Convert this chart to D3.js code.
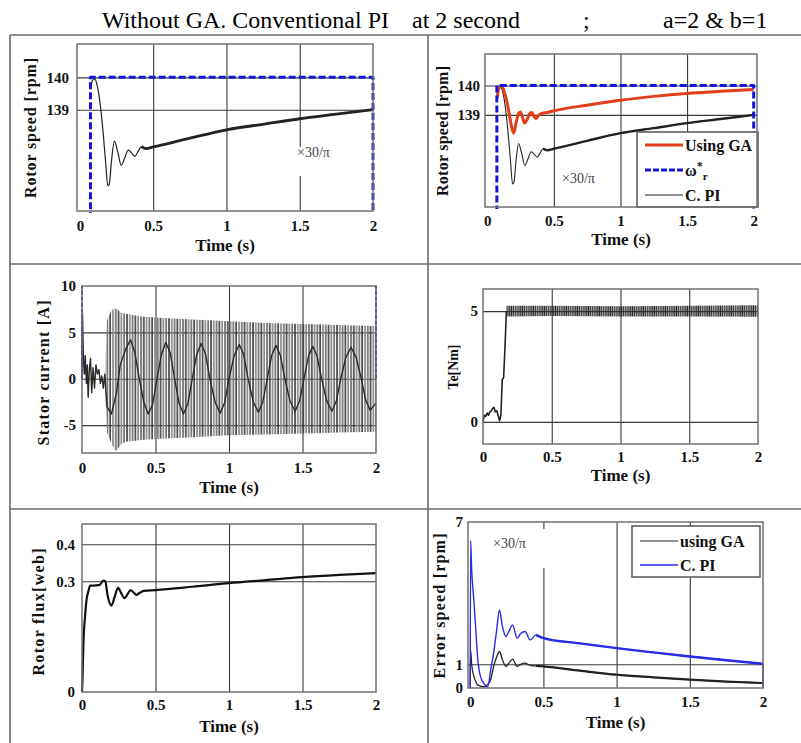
<!DOCTYPE html>
<html>
<head>
<meta charset="utf-8">
<script src="https://cdn.jsdelivr.net/npm/d3@7"></script>
<style>
  body { margin: 0; background: #fff; }
  svg text { font-family: "Liberation Serif", "Times New Roman", serif; }
</style>
</head>
<body>
<div id="fig"></div>
<script>
// ---------- values ----------
var timeTicks = [0, 0.5, 1, 1.5, 2]
var timeTickLabels = ["0", "0.5", "1", "1.5", "2"]
var timeGrid = [0.5, 1, 1.5]

// rotor speed [rpm], conventional PI
var speedT  = [0.075, 0.085, 0.1, 0.115, 0.13, 0.145, 0.16, 0.175, 0.19, 0.2, 0.215, 0.235, 0.258, 0.282, 0.305, 0.33, 0.355, 0.375, 0.398, 0.42, 0.45, 0.5, 0.75, 1.0, 1.25, 1.5, 1.75, 2.0]
var speedPI = [139.7, 139.9, 139.95, 139.8, 139.45, 138.9, 138.2, 137.4, 136.65, 136.7, 137.4, 138.03, 137.7, 137.28, 137.5, 137.75, 137.65, 137.56, 137.72, 137.86, 137.8, 137.85, 138.12, 138.38, 138.55, 138.72, 138.86, 139.0]
// rotor speed [rpm], using GA
var speedGAT = [0.075, 0.09, 0.11, 0.13, 0.15, 0.17, 0.185, 0.198, 0.215, 0.235, 0.25, 0.265, 0.28, 0.3, 0.32, 0.335, 0.35, 0.365, 0.385, 0.41, 0.45, 0.5, 0.75, 1.0, 1.25, 1.5, 1.75, 2.0]
var speedGA  = [139.6, 139.95, 139.95, 139.75, 139.4, 138.9, 138.55, 138.38, 138.7, 139.05, 139.1, 138.9, 138.72, 138.85, 139.05, 139.08, 138.95, 138.88, 138.98, 139.05, 139.08, 139.14, 139.33, 139.5, 139.63, 139.73, 139.8, 139.86]
// reference speed w*r
var refT = [0.072, 0.072, 2.0, 2.0]
var refW = [135.0, 140, 140, 135.0]
var speedTicks = [139, 140]

// stator current [A]
var currentT = [0, 0.003, 0.006, 0.01, 0.016, 0.022, 0.03, 0.036, 0.042, 0.05, 0.058, 0.066, 0.075, 0.085, 0.095, 0.105, 0.115, 0.125, 0.135, 0.145, 0.155,
  0.17, 0.2, 0.235, 0.26, 0.3, 0.33, 0.36, 0.39, 0.42, 0.45, 0.48, 0.51, 0.54, 0.57, 0.6, 0.63, 0.66, 0.69, 0.72, 0.75, 0.78, 0.81, 0.84, 0.87,
  0.905, 0.94, 0.97, 1.0, 1.035, 1.07, 1.1, 1.13, 1.165, 1.2, 1.23, 1.26, 1.29, 1.32, 1.35, 1.38, 1.415, 1.45, 1.48, 1.51, 1.54, 1.57, 1.6, 1.63,
  1.665, 1.7, 1.73, 1.76, 1.795, 1.83, 1.865, 1.9, 1.93, 1.96, 2.0]
var currentI = [0, 7.0, 5.0, 2.0, 0.5, 2.5, -0.5, 1.5, -2.0, 1.0, 2.2, -1.5, 1.2, -1.0, 1.5, 0.5, 1.0, -0.5, 0.3, -1.0, 0.5,
  -3.0, -3.8, -1.5, 1.5, 3.3, 4.2, 2.8, 0.0, -2.5, -3.8, -2.8, 0, 2.6, 3.9, 2.8, 0, -2.6, -3.8, -2.7, 0, 2.6, 3.8, 2.7, 0,
  -2.5, -3.7, -2.6, 0, 2.5, 3.7, 2.6, 0, -2.5, -3.6, -2.5, 0, 2.5, 3.6, 2.5, 0, -2.4, -3.5, -2.4, 0, 2.4, 3.5, 2.4, 0,
  -2.4, -3.5, -2.4, 0, 2.3, 3.4, 2.3, 0, -2.3, -3.4, -2.6]
// envelope of the switching band
var bandT  = [0.155, 0.17, 0.2, 0.23, 0.27, 0.3, 0.4, 0.5, 0.75, 1.0, 1.25, 1.5, 1.75, 2.0]
var bandHi = [0.5, 6.3, 7.4, 7.6, 7.1, 7.0, 6.7, 6.6, 6.4, 6.2, 6.0, 5.9, 5.8, 5.7]
var bandLo = [-1.0, -5.8, -7.0, -7.8, -7.0, -6.8, -6.6, -6.5, -6.3, -6.1, -6.0, -5.9, -5.8, -5.7]
var currentRefT = [0, 2]
var currentRefSpan = [0, 10]
var currentTicks = [-5, 0, 5, 10]
var currentGrid = [-5, 0, 5]

// electromagnetic torque Te [Nm]
var teT   = [0, 0.01, 0.02, 0.03, 0.04, 0.05, 0.06, 0.07, 0.08, 0.09, 0.1, 0.11, 0.12, 0.13, 0.14, 0.15, 0.16, 0.17]
var teVal = [0, 0.3, 0.25, 0.4, 0.3, 0.45, 0.5, 0.6, 0.65, 0.45, 0.5, 0.3, 0.05, 0.3, 1.9, 2.0, 3.4, 5.0]
var teBandT  = [0.17, 0.5, 1.0, 1.5, 2.0]
var teBandHi = [5.24, 5.24, 5.22, 5.24, 5.27]
var teBandLo = [4.76, 4.78, 4.76, 4.76, 4.75]
var teTicks = [0, 5]

// rotor flux [web]
var fluxT   = [0, 0.005, 0.01, 0.02, 0.03, 0.045, 0.055, 0.08, 0.1, 0.12, 0.145, 0.158, 0.175, 0.2, 0.22, 0.245, 0.27, 0.29, 0.31, 0.33, 0.35, 0.37, 0.39, 0.42, 0.5, 0.75, 1.0, 1.25, 1.5, 1.75, 2.0]
var fluxVal = [0, 0.06, 0.137, 0.2, 0.247, 0.275, 0.288, 0.288, 0.289, 0.29, 0.302, 0.3, 0.26, 0.234, 0.255, 0.282, 0.265, 0.254, 0.265, 0.276, 0.27, 0.263, 0.268, 0.274, 0.276, 0.285, 0.295, 0.303, 0.311, 0.317, 0.322]
var fluxTicks = [0, 0.3, 0.4]
var fluxGrid = [0.3, 0.4]

// speed error [rpm]
var errT  = [0, 0.003, 0.01, 0.025, 0.04, 0.05, 0.07, 0.1, 0.12, 0.14, 0.16, 0.18, 0.2, 0.22, 0.244, 0.265, 0.29, 0.32, 0.345, 0.374, 0.41, 0.45, 0.5, 0.75, 1.0, 1.25, 1.5, 1.75, 2.0]
var errPI = [0, 6.2, 5.0, 3.7, 2.3, 1.33, 0.49, 0.14, 0.05, 0.77, 1.47, 2.4, 3.29, 2.6, 2.17, 2.4, 2.66, 2.1, 2.3, 2.38, 2.03, 2.24, 2.1, 1.88, 1.68, 1.5, 1.33, 1.17, 1.02]
var errGA = [0, 1.6, 1.0, 0.49, 0.25, 0.14, 0.08, 0.05, 0.15, 0.35, 0.91, 1.3, 1.54, 1.2, 0.91, 1.05, 1.22, 0.91, 1.0, 1.05, 0.95, 0.93, 0.91, 0.73, 0.56, 0.45, 0.35, 0.27, 0.21]
var errEndT = [2.0, 2.0]
var errPIEnd = [1.02, 0]
var errTicks = [0, 1, 7]
var errGrid = [1]

// ---------- drawing ----------
var FONT = '"Liberation Serif", "Times New Roman", serif'
var BLUE = "#1616d8"
var RED = "#e2401c"

var svg = d3.select("#fig").append("svg")
  .attr("width", 801)
  .attr("height", 743)
  .attr("font-family", FONT)

var defs = svg.append("defs")
// vertical hatching stands in for the fast switching of the inverter signals
var pwm = defs.append("pattern").attr("id", "pwm")
  .attr("patternUnits", "userSpaceOnUse").attr("width", 8.4).attr("height", 8)
pwm.append("line").attr("x1", 1).attr("x2", 1).attr("y1", 0).attr("y2", 8)
  .attr("stroke", "#3c3c3c").attr("stroke-width", 1.6)
pwm.append("line").attr("x1", 3.8).attr("x2", 3.8).attr("y1", 0).attr("y2", 8)
  .attr("stroke", "#8a8a8a").attr("stroke-width", 1.7)
pwm.append("line").attr("x1", 6.6).attr("x2", 6.6).attr("y1", 0).attr("y2", 8)
  .attr("stroke", "#707070").attr("stroke-width", 1.7)
var dense = defs.append("pattern").attr("id", "dense")
  .attr("patternUnits", "userSpaceOnUse").attr("width", 2.2).attr("height", 8)
dense.append("line").attr("x1", 1).attr("x2", 1).attr("y1", 0).attr("y2", 8)
  .attr("stroke", "#2a2a2a").attr("stroke-width", 1.5)

// title
var title = svg.append("g").attr("font-family", FONT).attr("font-size", 24).attr("fill", "#000")
title.append("text").attr("x", 102).attr("y", 28).text("Without GA. Conventional PI")
title.append("text").attr("x", 412).attr("y", 28).text("at 2 second")
title.append("text").attr("x", 583).attr("y", 28).text(";")
title.append("text").attr("x", 663).attr("y", 28).text("a=2 & b=1")

// table rules
var rules = svg.append("g").attr("stroke", "#6a6a6a").attr("stroke-width", 1.6)
rules.append("line").attr("x1", 10).attr("x2", 801).attr("y1", 35).attr("y2", 35)
rules.append("line").attr("x1", 10).attr("x2", 801).attr("y1", 264).attr("y2", 264)
rules.append("line").attr("x1", 10).attr("x2", 801).attr("y1", 509).attr("y2", 509)
rules.append("line").attr("x1", 10).attr("x2", 10).attr("y1", 35).attr("y2", 743)
rules.append("line").attr("x1", 428).attr("x2", 428).attr("y1", 35).attr("y2", 743)

function makePanel(L) {
  var x = d3.scaleLinear().domain(L.xDom).range([L.x0, L.x1])
  var y = d3.scaleLinear().domain(L.yDom).range([L.y1, L.y0])
  var w = L.x1 - L.x0, h = L.y1 - L.y0
  var g = svg.append("g")

  g.append("rect").attr("x", L.x0).attr("y", L.y0).attr("width", w).attr("height", h).attr("fill", "#fff")

  // grid
  g.append("g").attr("transform", "translate(0," + L.y1 + ")")
    .call(d3.axisBottom(x).tickValues(timeGrid).tickSize(-h).tickFormat(""))
    .call(function(s) { s.select(".domain").remove() })
    .selectAll("line").attr("stroke", "#3a3a3a").attr("stroke-width", 1.1)
  g.append("g").attr("transform", "translate(" + L.x0 + ",0)")
    .call(d3.axisLeft(y).tickValues(L.yGrid).tickSize(-w).tickFormat(""))
    .call(function(s) { s.select(".domain").remove() })
    .selectAll("line").attr("stroke", "#3a3a3a").attr("stroke-width", 1.1)

  var clipId = "clip-" + L.id
  defs.append("clipPath").attr("id", clipId).append("rect")
    .attr("x", L.x0 - 2).attr("y", L.y0 - 2).attr("width", w + 4).attr("height", h + 4)
  var plot = g.append("g").attr("clip-path", "url(#" + clipId + ")")
  var over = g.append("g")

  g.append("rect").attr("x", L.x0).attr("y", L.y0).attr("width", w).attr("height", h)
    .attr("fill", "none").attr("stroke", "#707070").attr("stroke-width", 1.5)

  // tick labels
  g.append("g").attr("transform", "translate(0," + L.y1 + ")")
    .call(d3.axisBottom(x).tickValues(timeTicks).tickSize(0).tickPadding(L.xPad)
      .tickFormat(function(d, i) { return timeTickLabels[i] }))
    .call(function(s) { s.select(".domain").remove() })
    .attr("font-family", FONT).attr("font-size", 15).attr("font-weight", "bold")
  g.append("g").attr("transform", "translate(" + L.x0 + ",0)")
    .call(d3.axisLeft(y).tickValues(L.yTicks).tickSize(0).tickPadding(L.yPad)
      .tickFormat(function(d) { return String(d) }))
    .call(function(s) { s.select(".domain").remove() })
    .attr("font-family", FONT).attr("font-size", 15).attr("font-weight", "bold")
  g.selectAll(".tick text").attr("fill", "#111")

  // axis titles
  g.append("text").attr("x", (L.x0 + L.x1) / 2).attr("y", L.timeY)
    .attr("text-anchor", "middle").attr("font-size", 17).attr("font-weight", "bold")
    .attr("fill", "#111").text("Time (s)")
  g.append("text")
    .attr("transform", "translate(" + L.labelX + "," + L.labelY + ") rotate(-90)")
    .attr("text-anchor", "middle").attr("dy", "0.35em")
    .attr("font-size", L.labelSize || 16).attr("font-weight", "bold").attr("fill", "#111")
    .attr("textLength", L.labelLen).attr("lengthAdjust", "spacing")
    .text(L.label)

  return { x: x, y: y, plot: plot, over: over }
}

function drawLine(P, ts, vs, stroke, width, dash, curve) {
  var pts = ts.map(function(t, i) { return [t, vs[i]] })
  P.plot.append("path").datum(pts)
    .attr("d", d3.line().curve(curve || d3.curveLinear)
      .x(function(d) { return P.x(d[0]) }).y(function(d) { return P.y(d[1]) }))
    .attr("fill", "none").attr("stroke", stroke).attr("stroke-width", width)
    .attr("stroke-linejoin", "round")
    .attr("stroke-dasharray", dash || null)
}

// the noisy steady-state part of a trace is drawn heavier
function drawTail(P, ts, vs, from, stroke, width) {
  var t2 = [], v2 = []
  ts.forEach(function(t, i) { if (t >= from) { t2.push(t); v2.push(vs[i]) } })
  drawLine(P, t2, v2, stroke, width, null, d3.curveMonotoneX)
}

function drawBand(P, ts, hi, lo, fill) {
  var pts = ts.map(function(t, i) { return [t, lo[i], hi[i]] })
  P.plot.append("path").datum(pts)
    .attr("d", d3.area().x(function(d) { return P.x(d[0]) })
      .y0(function(d) { return P.y(d[1]) }).y1(function(d) { return P.y(d[2]) }))
    .attr("fill", fill)
}

function note(P, x, y, box) {
  if (box) P.over.append("rect").attr("x", box[0]).attr("y", box[1]).attr("width", box[2]).attr("height", box[3]).attr("fill", "#fff")
  P.over.append("text").attr("x", x).attr("y", y).attr("font-size", 14).attr("fill", "#444").text("\u00d730/\u03c0")
}

function legend(P, box, items) {
  P.over.append("rect").attr("x", box[0]).attr("y", box[1]).attr("width", box[2]).attr("height", box[3])
    .attr("fill", "#fff").attr("stroke", "#555").attr("stroke-width", 1.5)
  items.forEach(function(it) {
    P.over.append("line").attr("x1", box[0] + 8).attr("x2", box[0] + 46).attr("y1", it.y).attr("y2", it.y)
      .attr("stroke", it.color).attr("stroke-width", it.width).attr("stroke-dasharray", it.dash || null)
    var t = P.over.append("text").attr("x", box[0] + 48).attr("y", it.y).attr("dy", "0.35em")
      .attr("font-size", 16).attr("font-weight", "bold").attr("fill", "#111")
    if (it.omega) {
      t.append("tspan").text("\u03c9")
      t.append("tspan").attr("font-size", 12).attr("dy", -6).text("*")
      t.append("tspan").attr("font-size", 11).attr("dy", 10).text("r")
    } else {
      t.text(it.label)
    }
  })
}

var smooth = d3.curveMonotoneX

// --- row 1 left: rotor speed, conventional PI
var p1 = makePanel({ id: "p1", x0: 77, x1: 373, y0: 44, y1: 211, xDom: [-0.02, 2], yDom: [135.87, 141.03],
  yTicks: speedTicks, yGrid: speedTicks, xPad: 9, yPad: 8, timeY: 251,
  label: "Rotor speed [rpm]", labelX: 30, labelY: 128, labelLen: 140 })
note(p1, 297, 157, [292, 147, 44, 29])
drawLine(p1, speedT, speedPI, "#222", 1.2, null, smooth)
drawTail(p1, speedT, speedPI, 0.42, "#222", 2.8)
drawLine(p1, refT, refW, BLUE, 3, "7,3")

// --- row 1 right: rotor speed comparison
var p2 = makePanel({ id: "p2", x0: 485, x1: 757, y0: 54, y1: 207, xDom: [-0.017, 2.025], yDom: [135.87, 141.07],
  yTicks: speedTicks, yGrid: speedTicks, xPad: 8, yPad: 5, timeY: 245,
  label: "Rotor speed [rpm]", labelX: 442, labelY: 131, labelLen: 130 })
note(p2, 562, 183)
drawLine(p2, speedT, speedPI, "#222", 1.1, null, smooth)
drawTail(p2, speedT, speedPI, 0.42, "#222", 2.4)
drawLine(p2, speedGAT, speedGA, RED, 3, null, smooth)
drawLine(p2, refT, refW, BLUE, 3, "7,3")
legend(p2, [637, 132, 121, 75], [
  { y: 145, color: RED, width: 3, label: "Using GA" },
  { y: 170, color: BLUE, width: 3, dash: "6,2", omega: true },
  { y: 195, color: "#222", width: 1.2, label: "C. PI" }
])

// --- row 2 left: stator current
var p3 = makePanel({ id: "p3", x0: 82, x1: 376, y0: 286, y1: 453, xDom: [0, 2], yDom: [-8, 10],
  yTicks: currentTicks, yGrid: currentGrid, xPad: 9, yPad: 6, timeY: 493,
  label: "Stator current [A]", labelX: 43, labelY: 373, labelLen: 145 })
drawBand(p3, bandT, bandHi, bandLo, "url(#pwm)")
drawLine(p3, currentT, currentI, "#2a2a2a", 1.4)
currentRefT.forEach(function(t) { drawLine(p3, [t, t], currentRefSpan, BLUE, 2, "4,2") })

// --- row 2 right: torque
var p4 = makePanel({ id: "p4", x0: 483, x1: 758, y0: 289, y1: 444, xDom: [0, 2], yDom: [-1, 6],
  yTicks: teTicks, yGrid: teTicks, xPad: 7, yPad: 5, timeY: 481,
  label: "Te[Nm]", labelX: 453, labelY: 367, labelLen: 45, labelSize: 14 })
drawLine(p4, teT, teVal, "#222", 1.6)
drawBand(p4, teBandT, teBandHi, teBandLo, "url(#dense)")

// --- row 3 left: rotor flux
var p5 = makePanel({ id: "p5", x0: 82, x1: 376, y0: 524, y1: 692, xDom: [0, 2], yDom: [0, 0.455],
  yTicks: fluxTicks, yGrid: fluxGrid, xPad: 7, yPad: 7, timeY: 732,
  label: "Rotor flux[web]", labelX: 38, labelY: 612, labelLen: 127 })
drawLine(p5, fluxT, fluxVal, "#111", 2.2, null, smooth)

// --- row 3 right: speed error
var p6 = makePanel({ id: "p6", x0: 468, x1: 763, y0: 522, y1: 688, xDom: [-0.015, 2], yDom: [0, 7],
  yTicks: errTicks, yGrid: errGrid, xPad: 8, yPad: 5, timeY: 728,
  label: "Error speed [rpm]", labelX: 439, labelY: 606, labelLen: 145 })
note(p6, 493, 548, [488, 529, 60, 39])
drawLine(p6, errT, errGA, "#222", 1.3, null, smooth)
drawTail(p6, errT, errGA, 0.45, "#222", 2.2)
drawLine(p6, errT, errPI, "#2a2ae8", 1.4, null, smooth)
drawTail(p6, errT, errPI, 0.45, "#2a2ae8", 2.4)
drawLine(p6, errEndT, errPIEnd, "#2a2ae8", 1.6)
legend(p6, [632, 526, 128, 51], [
  { y: 541, color: "#222", width: 1.2, label: "using GA" },
  { y: 565, color: "#2a2ae8", width: 1.4, label: "C. PI" }
])
</script>
</body>
</html>
